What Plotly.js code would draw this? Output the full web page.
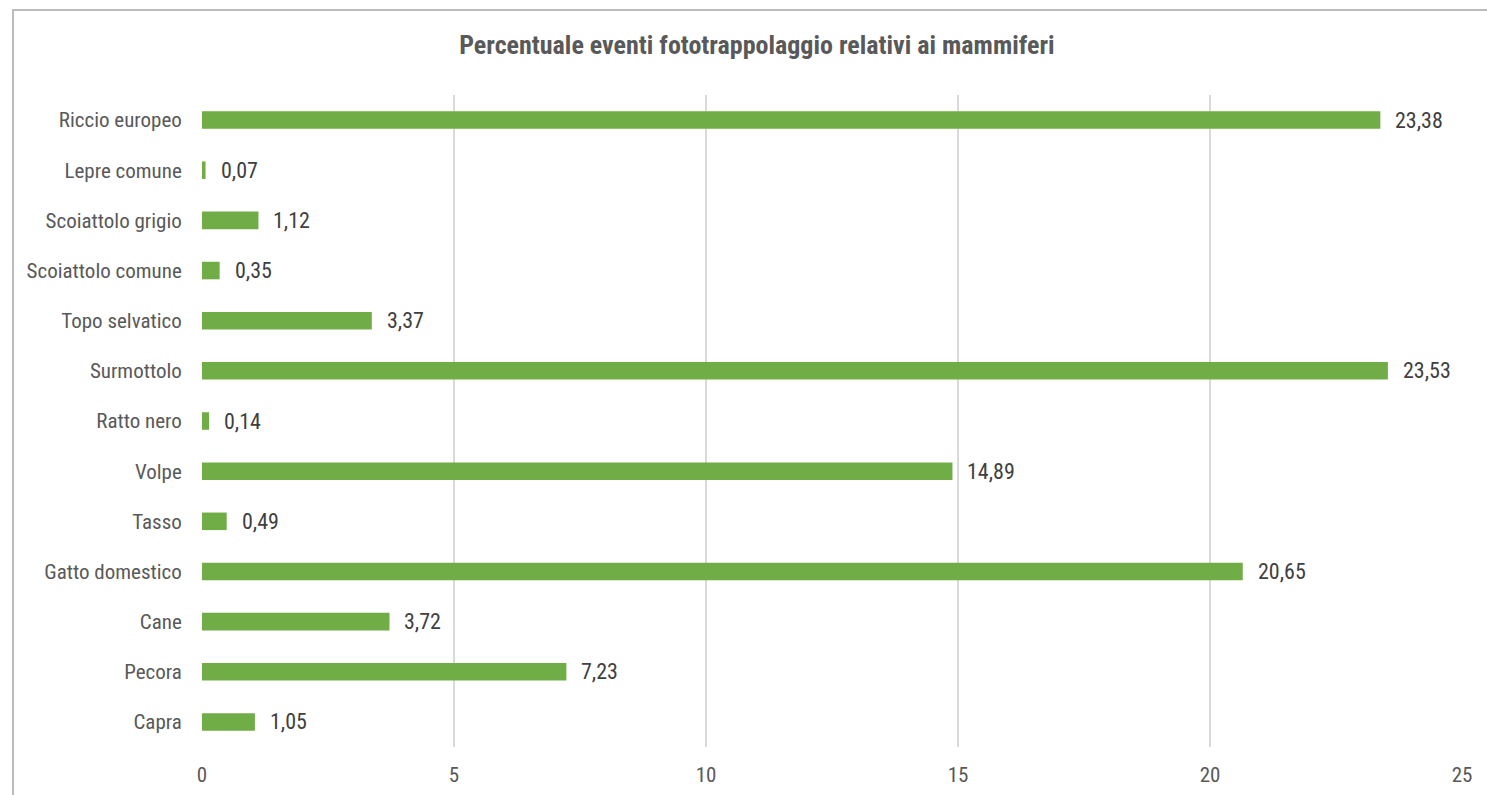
<!DOCTYPE html>
<html>
<head>
<meta charset="utf-8">
<script src="https://cdn.plot.ly/plotly-3.0.1.min.js"></script>
<style>
html,body{margin:0;padding:0;background:#fff;}
#chart{width:1487px;height:795px;}
</style>
</head>
<body>
<div id="chart"></div>
<script>
const categories = ["Riccio europeo","Lepre comune","Scoiattolo grigio","Scoiattolo comune","Topo selvatico","Surmottolo","Ratto nero","Volpe","Tasso","Gatto domestico","Cane","Pecora","Capra"];
const values = [23.38,0.07,1.12,0.35,3.37,23.53,0.14,14.89,0.49,20.65,3.72,7.23,1.05];
const xTicks = [0,5,10,15,20,25];

const FONT = "'Roboto Condensed', 'Liberation Sans Narrow', 'Arial Narrow', 'DejaVu Sans Condensed', sans-serif";
const TXT = "#595959";

const trace = {
  type: "bar",
  orientation: "h",
  x: values,
  y: categories,
  marker: {color: "#70AD47"},
  width: 0.35,
  hoverinfo: "x+y"
};

const annotations = values.map((v, i) => ({
  x: v, y: categories[i], xref: "x", yref: "y",
  text: v.toFixed(2).replace(".", ","),
  showarrow: false, xanchor: "left", yanchor: "middle",
  xshift: 13,
  font: {family: FONT, size: 22, color: "#404040"}
}));

const layout = {
  width: 1487, height: 795,
  margin: {l: 202, r: 25, t: 95, b: 48, pad: 0},
  paper_bgcolor: "#fff", plot_bgcolor: "#fff",
  separators: ",.",
  title: {
    text: "<b>Percentuale eventi fototrappolaggio relativi ai mammiferi</b>",
    font: {family: FONT, size: 26, color: TXT},
    x: 0.509, xanchor: "center", y: 0.943, yanchor: "middle"
  },
  xaxis: {
    range: [0, 25],
    tickvals: xTicks,
    ticktext: xTicks.map(String),
    showgrid: true, gridcolor: "#d9d9d9", gridwidth: 1.5,
    zeroline: false, showline: false,
    ticks: "outside", ticklen: 9, tickcolor: "rgba(0,0,0,0)",
    tickfont: {family: FONT, size: 21, color: TXT},
    fixedrange: true
  },
  yaxis: {
    type: "category",
    categoryorder: "array",
    categoryarray: categories,
    autorange: "reversed",
    showgrid: false, zeroline: false, showline: false,
    ticks: "outside", ticklen: 15, tickcolor: "rgba(0,0,0,0)",
    tickfont: {family: FONT, size: 21, color: TXT},
    fixedrange: true
  },
  showlegend: false,
  annotations: annotations,
  shapes: [{
    type: "rect", xref: "paper", yref: "paper",
    x0: (13 - 202) / 1260, x1: 1.05,
    y0: -0.2, y1: (747 - 10) / 652,
    line: {color: "#a6a6a6", width: 1.5},
    fillcolor: "rgba(0,0,0,0)",
    layer: "below"
  }]
};

Plotly.newPlot("chart", [trace], layout, {displayModeBar: false, staticPlot: true});
</script>
</body>
</html>
